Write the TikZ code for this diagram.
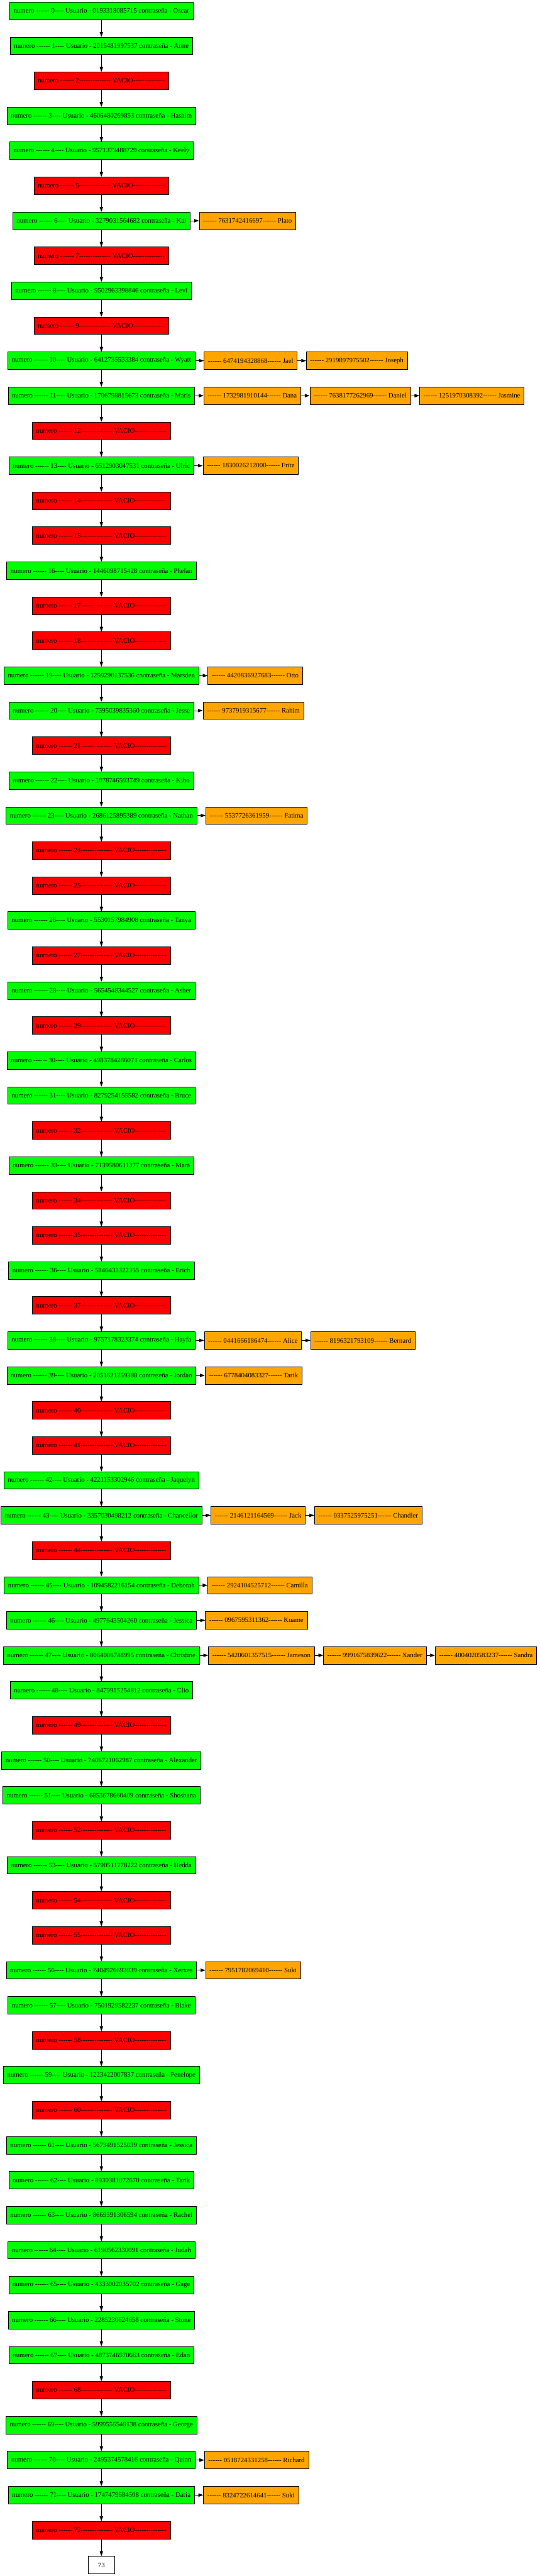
\documentclass[tikz,border=0pt]{standalone}
\usepackage{fontspec}
\setmainfont{Liberation Serif}[Ligatures=TeXOff]
\usetikzlibrary{arrows.meta, positioning}
\definecolor{slotgreen}{RGB}{0, 255, 0}
\definecolor{slotred}{RGB}{255, 0, 0}
\definecolor{chainorange}{RGB}{255, 165, 0}

\begin{document}
\begin{tikzpicture}[
  x=1pt, y=1pt,
  slot/.style={draw=black, line width=0.8pt, minimum height=36pt, inner xsep=8pt, inner ysep=0pt, font=\fontsize{14}{16}\selectfont},
  okbox/.style={slot, fill=slotgreen},
  emptybox/.style={slot, fill=slotred},
  chainbox/.style={slot, fill=chainorange},
  endbox/.style={slot, fill=white, minimum width=54pt},
  down/.style={-{Triangle[length=10pt, width=7pt]}, line width=0.8pt},
  enlace/.style={-{Triangle[length=10pt, width=7pt]}, line width=0.8pt}
]
  \useasboundingbox (-208.7, 22.2) rectangle (901.8, -5278.6);

  % tabla hash
  \node[okbox] (h0) at (0, 0) {numero ------ 0---- Usuario - 0193318085715 contraseña - Oscar};
  \node[okbox] (h1) at (0, -72) {numero ------ 1---- Usuario - 2015481997537 contraseña - Anne};
  \node[emptybox] (h2) at (0, -144) {numero ------ 2-------------- VACIO--------------};
  \node[okbox] (h3) at (0, -216) {numero ------ 3---- Usuario - 4606480269853 contraseña - Hashim};
  \node[okbox] (h4) at (0, -288) {numero ------ 4---- Usuario - 9571373488729 contraseña - Keely};
  \node[emptybox] (h5) at (0, -360) {numero ------ 5-------------- VACIO--------------};
  \node[okbox] (h6) at (0, -432) {numero ------ 6---- Usuario - 3279031564682 contraseña - Kai};
  \node[emptybox] (h7) at (0, -504) {numero ------ 7-------------- VACIO--------------};
  \node[okbox] (h8) at (0, -576) {numero ------ 8---- Usuario - 9502963398846 contraseña - Levi};
  \node[emptybox] (h9) at (0, -648) {numero ------ 9-------------- VACIO--------------};
  \node[okbox] (h10) at (0, -720) {numero ------ 10---- Usuario - 6412735533384 contraseña - Wyatt};
  \node[okbox] (h11) at (0, -792) {numero ------ 11---- Usuario - 1706798815673 contraseña - Maris};
  \node[emptybox] (h12) at (0, -864) {numero ------ 12-------------- VACIO--------------};
  \node[okbox] (h13) at (0, -936) {numero ------ 13---- Usuario - 6512903047531 contraseña - Ulric};
  \node[emptybox] (h14) at (0, -1008) {numero ------ 14-------------- VACIO--------------};
  \node[emptybox] (h15) at (0, -1080) {numero ------ 15-------------- VACIO--------------};
  \node[okbox] (h16) at (0, -1152) {numero ------ 16---- Usuario - 1446098715428 contraseña - Phelan};
  \node[emptybox] (h17) at (0, -1224) {numero ------ 17-------------- VACIO--------------};
  \node[emptybox] (h18) at (0, -1296) {numero ------ 18-------------- VACIO--------------};
  \node[okbox] (h19) at (0, -1368) {numero ------ 19---- Usuario - 1259290137536 contraseña - Marsden};
  \node[okbox] (h20) at (0, -1440) {numero ------ 20---- Usuario - 7595039835360 contraseña - Jesse};
  \node[emptybox] (h21) at (0, -1512) {numero ------ 21-------------- VACIO--------------};
  \node[okbox] (h22) at (0, -1584) {numero ------ 22---- Usuario - 1078746593749 contraseña - Kibo};
  \node[okbox] (h23) at (0, -1656) {numero ------ 23---- Usuario - 2686125895389 contraseña - Nathan};
  \node[emptybox] (h24) at (0, -1728) {numero ------ 24-------------- VACIO--------------};
  \node[emptybox] (h25) at (0, -1800) {numero ------ 25-------------- VACIO--------------};
  \node[okbox] (h26) at (0, -1872) {numero ------ 26---- Usuario - 5530157984908 contraseña - Tanya};
  \node[emptybox] (h27) at (0, -1944) {numero ------ 27-------------- VACIO--------------};
  \node[okbox] (h28) at (0, -2016) {numero ------ 28---- Usuario - 5654548344527 contraseña - Asher};
  \node[emptybox] (h29) at (0, -2088) {numero ------ 29-------------- VACIO--------------};
  \node[okbox] (h30) at (0, -2160) {numero ------ 30---- Usuario - 4983784286071 contraseña - Carlos};
  \node[okbox] (h31) at (0, -2232) {numero ------ 31---- Usuario - 8279254155582 contraseña - Bruce};
  \node[emptybox] (h32) at (0, -2304) {numero ------ 32-------------- VACIO--------------};
  \node[okbox] (h33) at (0, -2376) {numero ------ 33---- Usuario - 7139580611377 contraseña - Mara};
  \node[emptybox] (h34) at (0, -2448) {numero ------ 34-------------- VACIO--------------};
  \node[emptybox] (h35) at (0, -2520) {numero ------ 35-------------- VACIO--------------};
  \node[okbox] (h36) at (0, -2592) {numero ------ 36---- Usuario - 5846433322355 contraseña - Erich};
  \node[emptybox] (h37) at (0, -2664) {numero ------ 37-------------- VACIO--------------};
  \node[okbox] (h38) at (0, -2736) {numero ------ 38---- Usuario - 9757178323374 contraseña - Hayfa};
  \node[okbox] (h39) at (0, -2808) {numero ------ 39---- Usuario - 2051621259388 contraseña - Jordan};
  \node[emptybox] (h40) at (0, -2880) {numero ------ 40-------------- VACIO--------------};
  \node[emptybox] (h41) at (0, -2952) {numero ------ 41-------------- VACIO--------------};
  \node[okbox] (h42) at (0, -3024) {numero ------ 42---- Usuario - 4221153302946 contraseña - Jaquelyn};
  \node[okbox] (h43) at (0, -3096) {numero ------ 43---- Usuario - 3357030498212 contraseña - Chancellor};
  \node[emptybox] (h44) at (0, -3168) {numero ------ 44-------------- VACIO--------------};
  \node[okbox] (h45) at (0, -3240) {numero ------ 45---- Usuario - 1094582216154 contraseña - Deborah};
  \node[okbox] (h46) at (0, -3312) {numero ------ 46---- Usuario - 4977643504260 contraseña - Jessica};
  \node[okbox] (h47) at (0, -3384) {numero ------ 47---- Usuario - 8064006748995 contraseña - Christine};
  \node[okbox] (h48) at (0, -3456) {numero ------ 48---- Usuario - 8479915254812 contraseña - Clio};
  \node[emptybox] (h49) at (0, -3528) {numero ------ 49-------------- VACIO--------------};
  \node[okbox] (h50) at (0, -3600) {numero ------ 50---- Usuario - 7406721062987 contraseña - Alexander};
  \node[okbox] (h51) at (0, -3672) {numero ------ 51---- Usuario - 6853678660409 contraseña - Shoshana};
  \node[emptybox] (h52) at (0, -3744) {numero ------ 52-------------- VACIO--------------};
  \node[okbox] (h53) at (0, -3816) {numero ------ 53---- Usuario - 5790511778222 contraseña - Hedda};
  \node[emptybox] (h54) at (0, -3888) {numero ------ 54-------------- VACIO--------------};
  \node[emptybox] (h55) at (0, -3960) {numero ------ 55-------------- VACIO--------------};
  \node[okbox] (h56) at (0, -4032) {numero ------ 56---- Usuario - 7404926693939 contraseña - Xerxes};
  \node[okbox] (h57) at (0, -4104) {numero ------ 57---- Usuario - 7501929582237 contraseña - Blake};
  \node[emptybox] (h58) at (0, -4176) {numero ------ 58-------------- VACIO--------------};
  \node[okbox] (h59) at (0, -4248) {numero ------ 59---- Usuario - 1223422007837 contraseña - Penelope};
  \node[emptybox] (h60) at (0, -4320) {numero ------ 60-------------- VACIO--------------};
  \node[okbox] (h61) at (0, -4392) {numero ------ 61---- Usuario - 5673491525039 contraseña - Jessica};
  \node[okbox] (h62) at (0, -4464) {numero ------ 62---- Usuario - 8930381072670 contraseña - Tarik};
  \node[okbox] (h63) at (0, -4536) {numero ------ 63---- Usuario - 8669591306594 contraseña - Rachel};
  \node[okbox] (h64) at (0, -4608) {numero ------ 64---- Usuario - 6190562330091 contraseña - Judah};
  \node[okbox] (h65) at (0, -4680) {numero ------ 65---- Usuario - 4333002035702 contraseña - Gage};
  \node[okbox] (h66) at (0, -4752) {numero ------ 66---- Usuario - 2285230624658 contraseña - Stone};
  \node[okbox] (h67) at (0, -4824) {numero ------ 67---- Usuario - 4873746570663 contraseña - Edan};
  \node[emptybox] (h68) at (0, -4896) {numero ------ 68-------------- VACIO--------------};
  \node[okbox] (h69) at (0, -4968) {numero ------ 69---- Usuario - 5999555549138 contraseña - George};
  \node[okbox] (h70) at (0, -5040) {numero ------ 70---- Usuario - 2495374578416 contraseña - Quinn};
  \node[okbox] (h71) at (0, -5112) {numero ------ 71---- Usuario - 1747479684508 contraseña - Daria};
  \node[emptybox] (h72) at (0, -5184) {numero ------ 72-------------- VACIO--------------};
  \node[endbox] (h73) at (0, -5256) {73};

  \foreach \i [evaluate=\i as \j using int(\i+1)] in {0,...,72}
    \draw[down] (h\i) -- (h\j);

  % colisiones
  \node[chainbox, right=18pt of h6] (h6a) {------ 7631742416697------ Plato};
  \node[chainbox, right=18pt of h10] (h10a) {------ 6474194328868------ Jael};
  \node[chainbox, right=18pt of h10a] (h10b) {------ 2919897975502------ Joseph};
  \node[chainbox, right=18pt of h11] (h11a) {------ 1732981910144------ Dana};
  \node[chainbox, right=18pt of h11a] (h11b) {------ 7638177262969------ Daniel};
  \node[chainbox, right=18pt of h11b] (h11c) {------ 1251970308392------ Jasmine};
  \node[chainbox, right=18pt of h13] (h13a) {------ 1830026212000------ Fritz};
  \node[chainbox, right=18pt of h19] (h19a) {------ 4420836927683------ Otto};
  \node[chainbox, right=18pt of h20] (h20a) {------ 9737919315677------ Rahim};
  \node[chainbox, right=18pt of h23] (h23a) {------ 5537726361959------ Fatima};
  \node[chainbox, right=18pt of h38] (h38a) {------ 0441666186474------ Alice};
  \node[chainbox, right=18pt of h38a] (h38b) {------ 8196321793109------ Bernard};
  \node[chainbox, right=18pt of h39] (h39a) {------ 6778404083327------ Tarik};
  \node[chainbox, right=18pt of h43] (h43a) {------ 2146121164569------ Jack};
  \node[chainbox, right=18pt of h43a] (h43b) {------ 0337525975251------ Chandler};
  \node[chainbox, right=18pt of h45] (h45a) {------ 2924104525712------ Camilla};
  \node[chainbox, right=18pt of h46] (h46a) {------ 0967595311362------ Kuame};
  \node[chainbox, right=18pt of h47] (h47a) {------ 5420601357515------ Jameson};
  \node[chainbox, right=18pt of h47a] (h47b) {------ 9991675839622------ Xander};
  \node[chainbox, right=18pt of h47b] (h47c) {------ 4004020583237------ Sandra};
  \node[chainbox, right=18pt of h56] (h56a) {------ 7951782069410------ Suki};
  \node[chainbox, right=18pt of h70] (h70a) {------ 0518724331258------ Richard};
  \node[chainbox, right=18pt of h71] (h71a) {------ 8324722614641------ Suki};

  \draw[enlace] (h6) -- (h6a);
  \draw[enlace] (h10) -- (h10a);
  \draw[enlace] (h10a) -- (h10b);
  \draw[enlace] (h11) -- (h11a);
  \draw[enlace] (h11a) -- (h11b);
  \draw[enlace] (h11b) -- (h11c);
  \draw[enlace] (h13) -- (h13a);
  \draw[enlace] (h19) -- (h19a);
  \draw[enlace] (h20) -- (h20a);
  \draw[enlace] (h23) -- (h23a);
  \draw[enlace] (h38) -- (h38a);
  \draw[enlace] (h38a) -- (h38b);
  \draw[enlace] (h39) -- (h39a);
  \draw[enlace] (h43) -- (h43a);
  \draw[enlace] (h43a) -- (h43b);
  \draw[enlace] (h45) -- (h45a);
  \draw[enlace] (h46) -- (h46a);
  \draw[enlace] (h47) -- (h47a);
  \draw[enlace] (h47a) -- (h47b);
  \draw[enlace] (h47b) -- (h47c);
  \draw[enlace] (h56) -- (h56a);
  \draw[enlace] (h70) -- (h70a);
  \draw[enlace] (h71) -- (h71a);
\end{tikzpicture}
\end{document}
